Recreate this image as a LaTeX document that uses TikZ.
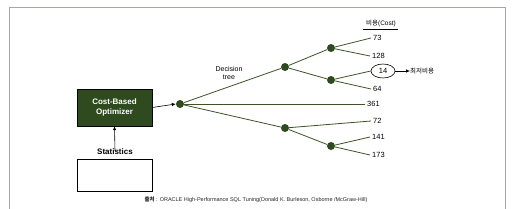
\documentclass[tikz,border=0pt]{standalone}
\usepackage{fontspec}
\setmainfont{Liberation Sans}
\newfontfamily\kr{Noto Sans CJK KR}
\usetikzlibrary{arrows.meta,shapes.geometric}
\definecolor{dkgreen}{HTML}{2E4A1E}
\definecolor{lnolive}{HTML}{3E5228}
\definecolor{framegray}{HTML}{A8A8A0}
\begin{document}
\begin{tikzpicture}[x=1pt,y=-1pt,
  dot/.style={circle,fill=dkgreen,inner sep=0pt,minimum size=8pt},
  br/.style={draw=lnolive,line width=0.8pt},
  leaf/.style={inner xsep=2pt,inner ysep=0pt,font=\fontsize{7.5}{8}\selectfont,anchor=west},
  arr/.style={draw=black,line width=0.6pt,-{Latex[length=4pt,width=3.5pt]}}]
\useasboundingbox (0,0) rectangle (512,209);
\fill[white] (0,0) rectangle (512,209);
\draw[framegray,line width=0.8pt] (9,7) rectangle (505,215);
% optimizer
\node[draw=black,fill=dkgreen,minimum width=75pt,minimum height=37pt,inner sep=0pt,
  text=white,font=\bfseries\fontsize{8}{9.5}\selectfont,align=center] (cbo) at (114.5,107.5) {Cost-Based\\Optimizer};
\node[draw=black,line width=0.6pt,minimum width=75pt,minimum height=32pt,inner sep=0pt] (stat) at (114.5,175) {};
\node[font=\bfseries\fontsize{8}{9}\selectfont,inner sep=0pt] (statl) at (115,152) {Statistics};
\draw[arr] (statl.north) ++(0,-2pt) coordinate (s0) -- (cbo.south);
% tree
\node[dot] (r) at (180,104) {};
\draw[arr] (cbo.east) -- (r.west);
\node[dot] (a) at (285,67) {};
\node[dot] (b) at (285,128) {};
\node[dot] (a1) at (331,48) {};
\node[dot] (a2) at (331,80) {};
\node[dot] (b1) at (331,146) {};
\node[leaf] (l73) at (371,38) {73};
\node[leaf] (l128) at (370,56) {128};
\node[draw=black,ellipse,line width=0.6pt,minimum width=24pt,minimum height=14pt,inner sep=0pt,font=\fontsize{7.5}{8}\selectfont] (l14) at (383,71) {14};
\node[leaf] (l64) at (371,89) {64};
\node[leaf] (l361) at (365,104) {361};
\node[leaf] (l72) at (371,121) {72};
\node[leaf] (l141) at (370,137) {141};
\node[leaf] (l173) at (370,155) {173};
\node[inner sep=0pt,anchor=west,font=\kr\fontsize{6.5}{7}\selectfont] (best) at (410,71) {최저비용};
\draw[arr] (l14.east) -- (best.west);
\draw[br] (r) -- (a);
\draw[br] (r) -- (b);
\draw[br] (r) -- (l361.west);
\draw[br] (a) -- (a1);
\draw[br] (a) -- (a2);
\draw[br] (b) -- (b1);
\draw[br] (b) -- (l72.west);
\draw[br] (a1) -- (l73.west);
\draw[br] (a1) -- (l128.west);
\draw[br] (a2) -- (l14.west);
\draw[br] (a2) -- (l64.west);
\draw[br] (b1) -- (l141.west);
\draw[br] (b1) -- (l173.west);
\node[inner sep=0pt,align=center,font=\fontsize{7}{7.5}\selectfont] (dt) at (229,73) {Decision\\tree};
\node[inner sep=1pt,font=\fontsize{6.5}{7}\selectfont] (cost) at (381,23) {\kr 비용\normalfont(Cost)};
\draw[black,line width=0.5pt] (363,29) coordinate (u0) -- (398,29) coordinate (u1);
\node[inner sep=0pt,font=\fontsize{5.5}{6}\selectfont,text=black!85] (cap) at (256,200) {{\kr\bfseries 출처} : ORACLE High-Performance SQL Tuning(Donald K. Burleson, Osborne /McGraw-Hill)};
\end{tikzpicture}
\end{document}
